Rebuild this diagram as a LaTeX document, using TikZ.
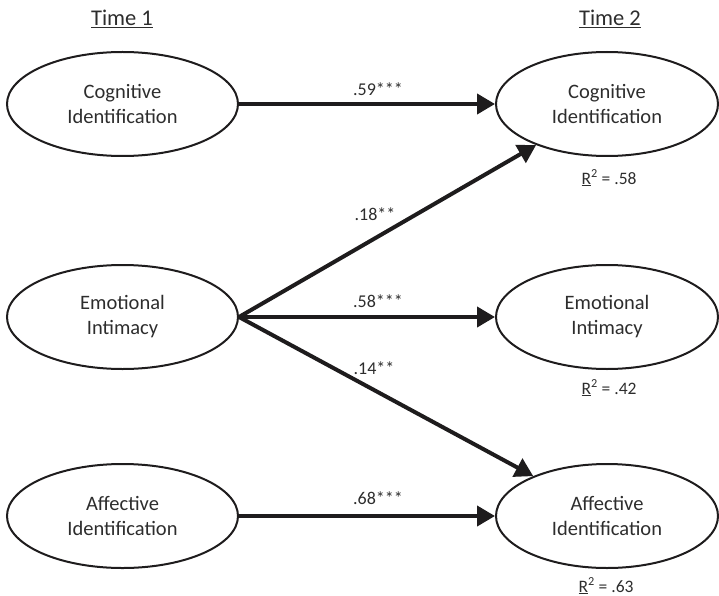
\documentclass[tikz,border=0pt]{standalone}
\usepackage{fontspec}
\setmainfont{Carlito}
\usetikzlibrary{shapes.geometric,arrows.meta}
\definecolor{txt}{RGB}{45,45,45}
\definecolor{ln}{RGB}{30,28,29}
\tikzset{
  latent/.style={ellipse, draw=ln, line width=2pt, inner sep=0pt, minimum height=104pt,
    text=txt, align=center, font=\fontsize{20.5}{25}\selectfont},
  lw/.style={latent, minimum width=231pt},
  rw/.style={latent, minimum width=222pt},
  path/.style={draw=ln, line width=4pt, -{Triangle[length=18pt,width=20pt]}},
  coef/.style={text=txt, font=\fontsize{18}{20}\selectfont, inner sep=0pt},
  rsq/.style={text=txt, font=\fontsize{17.5}{20}\selectfont, inner sep=0pt},
  timelbl/.style={text=txt, font=\fontsize{22.5}{26}\selectfont, inner sep=0pt}
}
\begin{document}
\begin{tikzpicture}[x=1pt,y=-1pt]
\useasboundingbox (0,0) rectangle (719,596);
\node[timelbl] (t1) at (122,19) {\underline{Time 1}};
\node[timelbl] (t2) at (610,19) {\underline{Time 2}};

\node[lw] (CL) at (122.5,104) {Cognitive\\Identification};
\node[lw] (EL) at (122.5,317) {Emotional\\Intimacy};
\node[lw] (AL) at (122.5,516) {Affective\\Identification};

\node[rw] (CR) at (607,104) {Cognitive\\Identification};
\node[rw] (ER) at (607,317) {Emotional\\Intimacy};
\node[rw] (AR) at (607,516) {Affective\\Identification};

\draw[path] (CL.east) -- (CR.west);
\draw[path] (EL.east) -- (CR);
\draw[path] (EL.east) -- (ER.west);
\draw[path] (EL.east) -- (AR);
\draw[path] (AL.east) -- (AR.west);

\node[coef] (c1) at (378,89) {.59***};
\node[coef] (c2) at (375,214) {.18**};
\node[coef] (c3) at (378,301) {.58***};
\node[coef] (c4) at (374,368) {.14**};
\node[coef] (c5) at (378,498) {.68***};

\node[rsq] (r1) at (609,178) {\underline{R}\textsuperscript{2} = .58};
\node[rsq] (r2) at (609,388) {\underline{R}\textsuperscript{2} = .42};
\node[rsq] (r3) at (606,586) {\underline{R}\textsuperscript{2} = .63};
\end{tikzpicture}
\end{document}
